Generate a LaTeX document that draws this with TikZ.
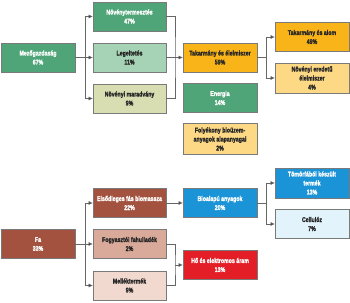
\documentclass[tikz,border=0pt]{standalone}
\usepackage{fontspec}
\setmainfont{Liberation Sans}[FakeStretch=0.76,BoldFeatures={FakeBold=1.5}]
\usetikzlibrary{arrows.meta}
\definecolor{dgreen}{HTML}{4FA578}
\definecolor{lgreen}{HTML}{A6D3B5}
\definecolor{ygreen}{HTML}{D8DEB1}
\definecolor{dorange}{HTML}{F8B418}
\definecolor{lorange}{HTML}{FDD985}
\definecolor{dbrown}{HTML}{A2523F}
\definecolor{mbrown}{HTML}{D9AA9A}
\definecolor{lbrown}{HTML}{F2D9CF}
\definecolor{dblue}{HTML}{1B94D7}
\definecolor{lblue}{HTML}{E2F3FC}
\definecolor{dred}{HTML}{E31E27}
\definecolor{bordergray}{HTML}{7A7A7A}
\tikzset{
  box/.style={draw=bordergray, line width=0.8pt, minimum width=74pt, minimum height=29pt,
    inner sep=0pt, align=center, font=\bfseries\fontsize{6.9}{9}\selectfont},
  wtext/.style={text=white},
  ktext/.style={text=black!85},
  conn/.style={draw=black!60, line width=0.7pt},
  arr/.style={conn, -{Triangle[length=4pt,width=3.5pt,fill=black!85]}},
}
\begin{document}
\begin{tikzpicture}[x=1pt,y=-1pt]
\useasboundingbox (0,0) rectangle (350,302);
% top group
\node[box,fill=dgreen,wtext] (mez) at (38,57.5) {Mezőgazdaság\\67\%};
\node[box,fill=dgreen,wtext,minimum width=73pt] (nov) at (129.5,16.5) {Növénytermesztés\\47\%};
\node[box,fill=lgreen,ktext,minimum width=73pt] (leg) at (129.5,57.5) {Legeltetés\\11\%};
\node[box,fill=ygreen,ktext,minimum width=73pt] (mar) at (129.5,98.5) {Növényi maradvány\\9\%};
\node[box,fill=dorange,ktext] (tak) at (220,57.5) {Takarmány és élelmiszer\\59\%};
\node[box,fill=dgreen,wtext] (ene) at (220,98) {Energia\\14\%};
\node[box,fill=lorange,ktext,minimum height=31pt] (fol) at (220,139) {Folyékony bioüzem-\\anyagok alapanyagai\\2\%};
\node[box,fill=dorange,ktext] (alo) at (312,37) {Takarmány és alom\\49\%};
\node[box,fill=lorange,ktext,minimum height=30pt] (ere) at (312,78) {Növényi eredetű\\élelmiszer\\4\%};
\coordinate (t1) at (85,57.5);
\draw[conn] (mez.east) -- (t1);
\draw[arr] (t1) |- (nov.west);
\draw[arr] (t1) -- (leg.west);
\draw[arr] (t1) |- (mar.west);
\coordinate (r1) at (175,57.5);
\draw[conn] (nov.east) -| (r1) |- (mar.east);
\draw[arr] (leg.east) -- (tak.west);
\coordinate (b1) at (266,57.5);
\draw[conn] (tak.east) -- (b1);
\draw[arr] (b1) |- (alo.west);
\draw[arr] (b1) |- (ere.west);
% bottom group
\node[box,fill=dbrown,wtext] (fa) at (38,244) {Fa\\33\%};
\node[box,fill=dbrown,wtext,minimum width=73pt] (els) at (129.5,203) {Elsődleges fás biomassza\\22\%};
\node[box,fill=mbrown,ktext,minimum width=73pt] (fog) at (129.5,244) {Fogyasztói fahulladék\\2\%};
\node[box,fill=lbrown,ktext,minimum width=73pt] (mel) at (129.5,285.5) {Melléktermék\\9\%};
\node[box,fill=dblue,wtext] (bio) at (220,203) {Bioalapú anyagok\\20\%};
\node[box,fill=dred,wtext] (ho) at (220,265) {Hő és elektromos áram\\13\%};
\node[box,fill=dblue,wtext,minimum height=30pt] (tom) at (312,183) {Tömörfából készült\\termék\\13\%};
\node[box,fill=lblue,ktext] (cel) at (312,224) {Cellulóz\\7\%};
\coordinate (t2) at (85,244);
\draw[conn] (fa.east) -- (t2);
\draw[arr] (t2) |- (els.west);
\draw[arr] (t2) -- (fog.west);
\draw[arr] (t2) |- (mel.west);
\draw[arr] (els.east) -- (bio.west);
\coordinate (r2) at (175,265);
\draw[conn] (fog.east) -| (r2) |- (mel.east);
\draw[arr] (r2) -- (ho.west);
\coordinate (b2) at (266,203);
\draw[conn] (bio.east) -- (b2);
\draw[arr] (b2) |- (tom.west);
\draw[arr] (b2) |- (cel.west);
\end{tikzpicture}
\end{document}
